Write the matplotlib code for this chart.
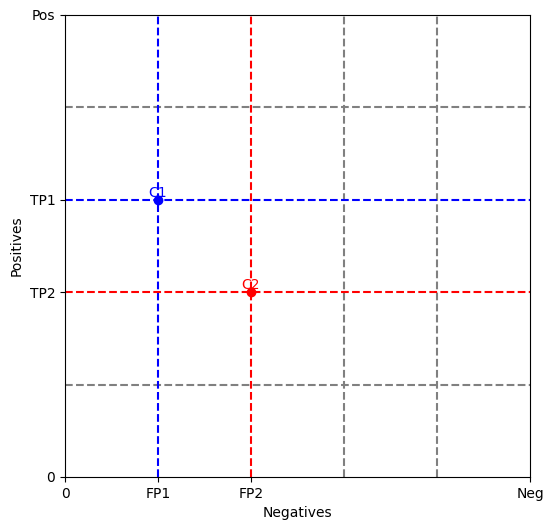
import matplotlib
matplotlib.use("Agg")
import matplotlib.pyplot as plt

# classifier points (negatives, positives)
names = ["C1", "C2"]
fp = [1, 2]
tp = [3, 2]
colors = ["blue", "red"]

# grid lines
grid_x = [3, 4]
grid_y = [1, 4]

x_ticks = [0, 1, 2, 5]
x_labels = ["0", "FP1", "FP2", "Neg"]
y_ticks = [0, 2, 3, 5]
y_labels = ["0", "TP2", "TP1", "Pos"]

fig = plt.figure(figsize=(5.54, 5.30), dpi=100)
ax = fig.add_axes([65 / 554, 1 - 477 / 530, (530 - 65) / 554, (477 - 15) / 530])

for x in grid_x:
    ax.axvline(x, color="gray", linestyle="--")
for y in grid_y:
    ax.axhline(y, color="gray", linestyle="--")

for n, x, y, c in zip(names, fp, tp, colors):
    ax.axvline(x, color=c, linestyle="--")
    ax.axhline(y, color=c, linestyle="--")
    ax.plot(x, y, "o", color=c)
    ax.text(x, y, n, color=c, ha="center", va="bottom")

ax.set_xlim(0, 5)
ax.set_ylim(0, 5)
ax.set_xticks(x_ticks)
ax.set_xticklabels(x_labels)
ax.set_yticks(y_ticks)
ax.set_yticklabels(y_labels)
ax.set_xlabel("Negatives")
ax.set_ylabel("Positives")

fig.savefig("out.png")
